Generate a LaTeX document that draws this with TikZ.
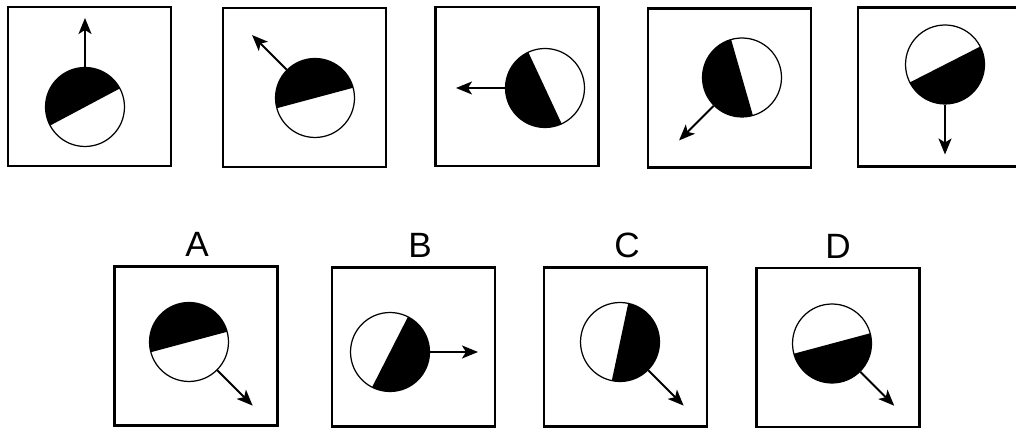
\documentclass[tikz,border=0pt]{standalone}
\usepackage{fontspec}
\setmainfont{Liberation Sans}
\usetikzlibrary{arrows.meta,calc,positioning}
\tikzset{
    panel/.style={draw, line width=1.3pt, minimum width=3.26cm,
                  minimum height=3.18cm, inner sep=0pt},
    disc/.style={circle, draw, line width=0.7pt, minimum size=1.58cm,
                 inner sep=0pt},
    half/.style={fill=black},
    pointer/.style={-{Stealth[length=0.32cm, width=0.26cm, inset=0.08cm]},
                    line width=1.1pt},
    choice/.style={font=\fontsize{20}{24}\selectfont, inner sep=0pt},
}
% black half of a disc: centre node, angle of the dividing line, radius
\newcommand{\halfdisc}[2]{%
    \fill[half] ($(#1)+(#2:39.5)$) arc[start angle=#2, end angle=#2+180,
        radius=39.5] -- cycle;}

\begin{document}
\begin{tikzpicture}[x=0.02cm, y=0.02cm]

    \useasboundingbox (0,0) rectangle (1016,428);

    % the row of five
    \node[panel] (p1) at (89.5,341.5) {};
    \node[panel] (p2) at (304.5,340.5) {};
    \node[panel] (p3) at (517,341.5) {};
    \node[panel] (p4) at (729.5,340) {};
    \begin{scope}
        \clip (0,0) rectangle (1016,428);
        \node[panel] (p5) at (939.5,341) {};
    \end{scope}

    \node[disc] (d1) at (85,321) {};
    \node[disc] (d2) at (315,330) {};
    \node[disc] (d3) at (545,340) {};
    \node[disc] (d4) at (742,350.5) {};
    \node[disc] (d5) at (945,363.5) {};
    \halfdisc{d1}{28}
    \halfdisc{d2}{15}
    \halfdisc{d3}{115}
    \halfdisc{d4}{106}
    \halfdisc{d5}{207}

    \coordinate (t1) at ($(d1)+(90:89)$);
    \coordinate (t2) at ($(d2)+(135:89)$);
    \coordinate (t3) at ($(d3)+(180:89)$);
    \coordinate (t4) at ($(d4)+(225:89)$);
    \coordinate (t5) at ($(d5)+(270:90)$);
    \draw[pointer] (d1) -- (t1);
    \draw[pointer] (d2) -- (t2);
    \draw[pointer] (d3) -- (t3);
    \draw[pointer] (d4) -- (t4);
    \draw[pointer] (d5) -- (t5);

    % the four answers
    \node[panel] (pA) at (196,82) {};
    \node[panel] (pB) at (413.5,81) {};
    \node[panel] (pC) at (625.5,81) {};
    \node[panel] (pD) at (838,80.5) {};
    \node[choice, above=0.17cm of pA, xshift=0.02cm] (lA) {A};
    \node[choice, above=0.17cm of pB, xshift=0.13cm] (lB) {B};
    \node[choice, above=0.17cm of pC, xshift=0.03cm] (lC) {C};
    \node[choice, above=0.17cm of pD] (lD) {D};

    \node[disc] (dA) at (189,86) {};
    \node[disc] (dB) at (390,76) {};
    \node[disc] (dC) at (620,86) {};
    \node[disc] (dD) at (832,84.5) {};
    \halfdisc{dA}{15}
    \halfdisc{dB}{243}
    \halfdisc{dC}{258}
    \halfdisc{dD}{195}

    \coordinate (tA) at ($(dA)+(-45:90)$);
    \coordinate (tB) at ($(dB)+(0:88)$);
    \coordinate (tC) at ($(dC)+(-45:90)$);
    \coordinate (tD) at ($(dD)+(-45:88)$);
    \draw[pointer] (dA) -- (tA);
    \draw[pointer] (dB) -- (tB);
    \draw[pointer] (dC) -- (tC);
    \draw[pointer] (dD) -- (tD);

\end{tikzpicture}
\end{document}
